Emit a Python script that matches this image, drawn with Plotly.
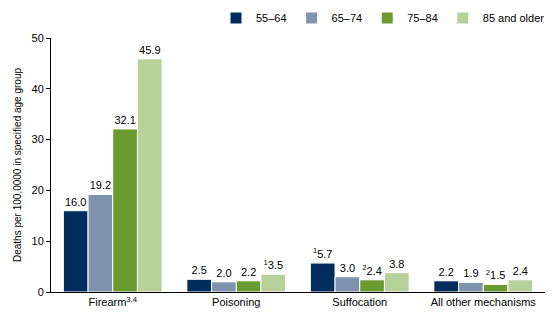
import plotly.graph_objects as go

categories = ["Firearm<sup>3,4</sup>", "Poisoning", "Suffocation", "All other mechanisms"]
series_names = ["55–64", "65–74", "75–84", "85 and older"]
values = {
    "55–64": [16.0, 2.5, 5.7, 2.2],
    "65–74": [19.2, 2.0, 3.0, 1.9],
    "75–84": [32.1, 2.2, 2.4, 1.5],
    "85 and older": [45.9, 3.5, 3.8, 2.4],
}
labels = {
    "55–64": ["16.0", "2.5", "<sup>1</sup>5.7", "2.2"],
    "65–74": ["19.2", "2.0", "3.0", "1.9"],
    "75–84": ["32.1", "2.2", "<sup>2</sup>2.4", "<sup>2</sup>1.5"],
    "85 and older": ["45.9", "<sup>1</sup>3.5", "3.8", "2.4"],
}
colors = ["#002d5c", "#7f93ae", "#6a9a30", "#b7d19b"]
y_ticks = [0, 10, 20, 30, 40, 50]

fig = go.Figure()
for name, col in zip(series_names, colors):
    fig.add_trace(go.Bar(
        x=categories, y=values[name], name=name,
        marker=dict(color=col, line=dict(color="white", width=1)),
        text=labels[name], textposition="outside", cliponaxis=False,
        textfont=dict(size=11, color="black"),
    ))

fig.update_layout(
    width=560, height=323,
    margin=dict(l=51, r=15, t=38, b=31, autoexpand=False),
    paper_bgcolor="white", plot_bgcolor="white",
    font=dict(family="Liberation Sans, Arial, sans-serif", size=11, color="black"),
    barmode="group", bargap=0.2, bargroupgap=0.0,
    legend=dict(orientation="h", x=550 / 560, xref="container", xanchor="right",
                y=1 - 18 / 323, yref="container", yanchor="middle",
                font=dict(size=11), traceorder="normal"),
    showlegend=True,
)
fig.update_xaxes(showline=True, linecolor="black", linewidth=1, ticks="",
                 showgrid=False, tickfont=dict(size=11))
fig.update_yaxes(range=[0, 50], tickvals=y_ticks, showline=True, linecolor="black",
                 linewidth=1, ticks="outside", ticklen=4, tickcolor="black",
                 showgrid=False, zeroline=False, tickfont=dict(size=11),
                 title=dict(text="Deaths per 100,0000 in specified age group",
                            font=dict(size=10), standoff=8))

fig.write_html("out.html")
